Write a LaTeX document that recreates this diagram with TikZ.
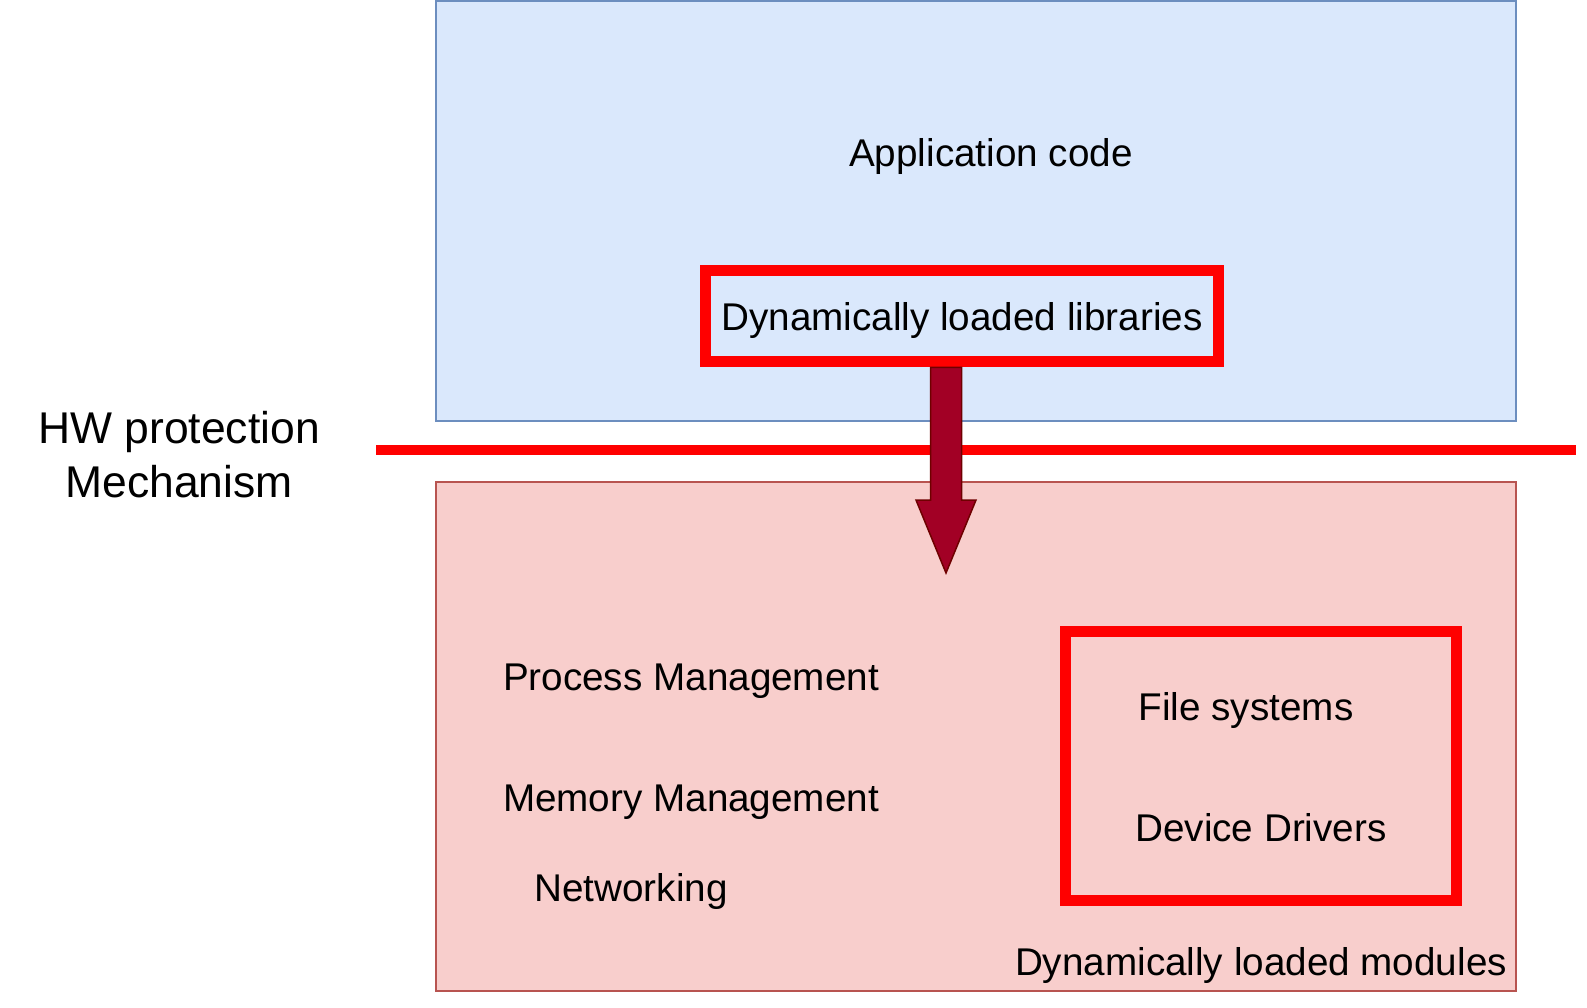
\documentclass[tikz,border=0pt]{standalone}
\usepackage{fontspec}
\setmainfont{Liberation Sans}
\usetikzlibrary{calc}
\definecolor{appfill}{HTML}{DAE8FC}
\definecolor{appline}{HTML}{6C8EBF}
\definecolor{kernfill}{HTML}{F8CECC}
\definecolor{kernline}{HTML}{B85450}
\definecolor{arrowfill}{HTML}{A20025}
\definecolor{arrowline}{HTML}{6F0000}

\begin{document}
\begin{tikzpicture}[
  x = 0.02cm, y = -0.02cm,
  every node/.style = {font = \fontsize{22}{26}\selectfont, inner sep = 0pt,
    text height = 19.8pt, text depth = 3.1pt},
  layer/.style = {draw, line width = 0.04cm, minimum width = 21.6cm},
  redbox/.style = {draw = red, line width = 0.22cm},
  bigtext/.style = {align = center, font = \fontsize{25.3}{30.7}\selectfont,
    text height = , text depth = }
]
\useasboundingbox (0,0) rectangle (1587,1008);

% User space and kernel space
\node[layer, fill = appfill, draw = appline, minimum height = 8.4cm](App) at (976,211){};
\node[layer, fill = kernfill, draw = kernline, minimum height = 10.18cm](Kernel) at (976,736.5){};
\node(AppText) at (991,152){Application code};

% Protection line
\node[bigtext](HW) at (179,455){HW protection\\Mechanism};
\coordinate (LineL) at (376,450);
\coordinate (LineR) at (1576,450);
\draw[red, line width = 0.21cm] (LineL) -- (LineR);

% Libraries and arrow
\node[redbox, minimum width = 10.28cm, minimum height = 1.84cm](Libs) at (962,316){Dynamically loaded libraries};
\coordinate (Tip) at (946,573);
\coordinate (Top) at (Tip |- Libs.south);
\draw[fill = arrowfill, draw = arrowline, line width = 0.03cm, line join = miter]
  ($(Top)+(-0.31cm,0)$) -- ($(Tip)+(-0.31cm,1.46cm)$)
  -- ($(Tip)+(-0.6cm,1.46cm)$) -- (Tip) -- ($(Tip)+(0.6cm,1.46cm)$)
  -- ($(Tip)+(0.31cm,1.46cm)$) -- ($(Top)+(0.31cm,0)$) -- cycle;

% Kernel parts
\node(Proc) at (691,676){Process Management};
\node(Mem) at (691,797){Memory Management};
\node(Net) at (631,887){Networking};
\node[redbox, minimum width = 7.84cm, minimum height = 5.4cm](Mods) at (1261,766){};
\node(FS) at (1246,706){File systems};
\node(Dev) at (1261,827){Device Drivers};
\node(ModsText) at (1261,961){Dynamically loaded modules};

\end{tikzpicture}
\end{document}
